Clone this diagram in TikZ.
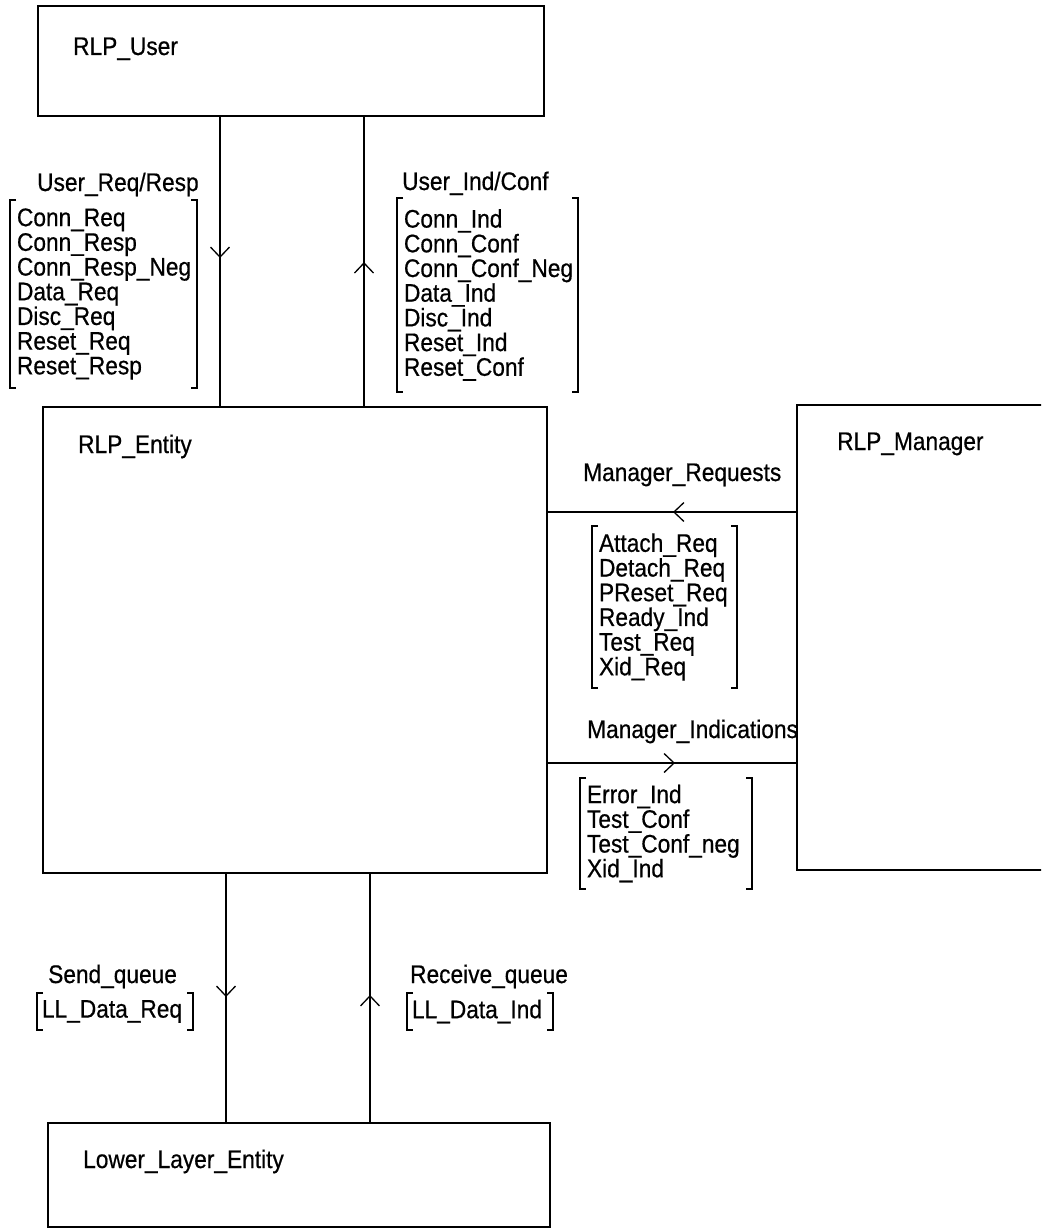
\documentclass[tikz,border=0pt]{standalone}
\usepackage{graphicx}
\usepackage{fontspec}
\setmainfont{Liberation Sans}
\newfontfamily\diagfont{Liberation Sans}[FakeBold=0.6]
\usetikzlibrary{arrows.meta,decorations.markings}
\newcommand{\tall}[1]{\scalebox{1}[1.12]{#1}}
\newcommand{\txt}{\diagfont\fontsize{22.7}{24.7}\selectfont}
\tikzset{
  box/.style={draw, line width=1.8pt, inner sep=0pt, outer sep=0pt, anchor=north west},
  lbl/.style={inner sep=0pt, anchor=base west, font=\txt},
  lst/.style={inner xsep=7pt, inner ysep=0pt, outer sep=0pt, anchor=north west, align=left, font=\txt},
  brk/.style={line width=1.6pt},
  conn/.style={line width=1.3pt},
  midarrow/.style={postaction={decorate}, decoration={markings, mark=at position #1 with {\arrow{Straight Barb[length=10pt,width=19pt]}}}}
}
\newcommand{\drawbrackets}[1]{%
  \draw[brk] ([xshift=6pt]#1.north west) -- (#1.north west) -- (#1.south west) -- ([xshift=6pt]#1.south west);
  \draw[brk] ([xshift=-6pt]#1.north east) -- (#1.north east) -- (#1.south east) -- ([xshift=-6pt]#1.south east);
}
\begin{document}
\begin{tikzpicture}[x=1pt,y=-1pt]
\useasboundingbox (0,0) rectangle (1041,1228);
\fill[white] (0,0) rectangle (1041,1228);
\clip (0,0) rectangle (1041,1228);

% boxes
\node[box, minimum width=506, minimum height=110] (user) at (38,6) {};
\node[box, minimum width=504, minimum height=466] (entity) at (43,407) {};
\node[box, minimum width=300, minimum height=465] (manager) at (797,405) {};
\node[box, minimum width=502, minimum height=104] (lower) at (48,1123) {};

% box labels
\node[lbl] (userlbl) at (73,55) {\tall{RLP\_User}};
\node[lbl] (entitylbl) at (78,453) {\tall{RLP\_Entity}};
\node[lbl] (managerlbl) at (837,450) {\tall{RLP\_Manager}};
\node[lbl] (lowerlbl) at (83,1168) {\tall{Lower\_Layer\_Entity}};

% connectors
\draw[conn, midarrow=0.488] ([xshift=182pt]user.south west) -- ([xshift=177pt]entity.north west);
\draw[conn, midarrow=0.498] ([xshift=321pt]entity.north west) -- ([xshift=326pt]user.south west);
\draw[conn, midarrow=0.496] ([xshift=183pt]entity.south west) -- ([xshift=178pt]lower.north west);
\draw[conn, midarrow=0.512] ([xshift=322pt]lower.north west) -- ([xshift=327pt]entity.south west);
\draw[conn, midarrow=0.496] ([yshift=-107pt]manager.north west) -- ([yshift=-105pt]entity.north east);
\draw[conn, midarrow=0.512] ([yshift=-356pt]entity.north east) -- ([yshift=-358pt]manager.north west);

% connector labels
\node[lbl] (urr) at (37,191) {\tall{User\_Req/Resp}};
\node[lbl] (uic) at (402,190) {\tall{User\_Ind/Conf}};
\node[lbl] (mrq) at (583,481) {\tall{Manager\_Requests}};
\node[lbl] (mind) at (587,738) {\tall{Manager\_Indications}};
\node[lbl] (sq) at (48,983) {\tall{Send\_queue}};
\node[lbl] (rq) at (410,983) {\tall{Receive\_queue}};

% lists
\node[lst, text width=173, minimum height=188] (l1) at (10,200)
  {\tall{Conn\_Req}\\\tall{Conn\_Resp}\\\tall{Conn\_Resp\_Neg}\\\tall{Data\_Req}\\\tall{Disc\_Req}\\\tall{Reset\_Req}\\\tall{Reset\_Resp}};
\node[lst, text width=167, minimum height=194] (l2) at (397,198)
  {\tall{Conn\_Ind}\\\tall{Conn\_Conf}\\\tall{Conn\_Conf\_Neg}\\\tall{Data\_Ind}\\\tall{Disc\_Ind}\\\tall{Reset\_Ind}\\\tall{Reset\_Conf}};
\node[lst, text width=131, minimum height=162] (l3) at (592,526)
  {\tall{Attach\_Req}\\\tall{Detach\_Req}\\\tall{PReset\_Req}\\\tall{Ready\_Ind}\\\tall{Test\_Req}\\\tall{Xid\_Req}};
\node[lst, text width=158, minimum height=111] (l4) at (580,778)
  {\tall{Error\_Ind}\\\tall{Test\_Conf}\\\tall{Test\_Conf\_neg}\\\tall{Xid\_Ind}};
\node[lst, inner xsep=5pt, text width=146, minimum height=37] (l5) at (37,993) {\tall{LL\_Data\_Req}};
\node[lst, inner xsep=5pt, text width=136, minimum height=37] (l6) at (407,993) {\tall{LL\_Data\_Ind}};

\drawbrackets{l1}
\drawbrackets{l2}
\drawbrackets{l3}
\drawbrackets{l4}
\drawbrackets{l5}
\drawbrackets{l6}
\end{tikzpicture}
\end{document}
